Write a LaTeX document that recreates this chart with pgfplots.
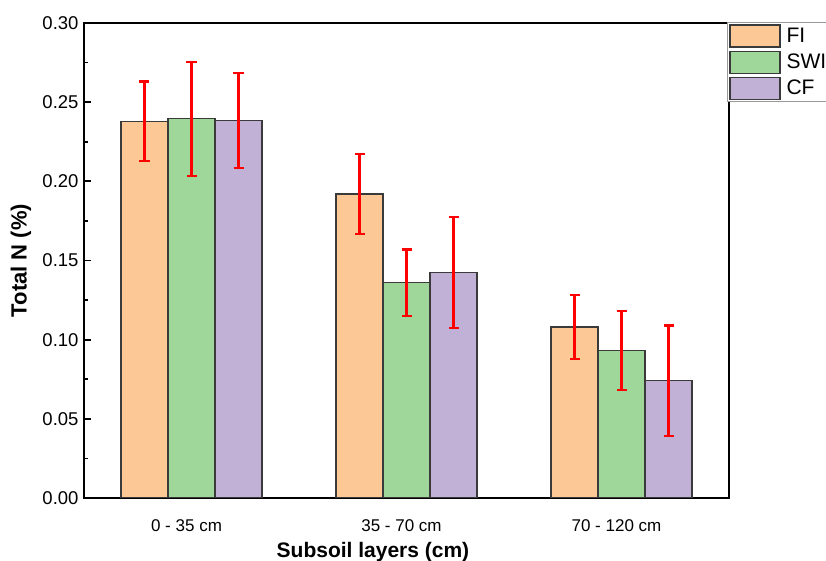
\documentclass[border=0pt]{standalone}
\usepackage{pgfplots}
\pgfplotsset{compat=1.18}
\usepackage{fontspec}
\setmainfont{Liberation Sans}
\definecolor{cFI}{HTML}{FCC896}
\definecolor{cSWI}{HTML}{9FD69A}
\definecolor{cCF}{HTML}{C2B1D7}
\definecolor{edge}{HTML}{3A3A3A}
\begin{document}
\begin{tikzpicture}
\begin{axis}[
  at={(0,0)}, anchor=south west,
  scale only axis, width=645bp, height=475bp,
  ybar=0pt, bar width=47bp,
  xmin=-0.5, xmax=2.5, ymin=0, ymax=0.30,
  xtick={0,1,2}, xticklabels={0 - 35 cm, 35 - 70 cm, 70 - 120 cm},
  ytick={0,0.05,0.10,0.15,0.20,0.25,0.30},
  minor ytick={0.025,0.075,0.125,0.175,0.225,0.275},
  ytick pos=left, xtick pos=bottom,
  tick align=inside,
  major tick length=7bp, minor tick length=4bp,
  x tick style={draw=none},
  y tick style={line width=1.8bp, black},
  axis line style={line width=2.2bp, black},
  tick label style={font=\fontsize{17bp}{20bp}\selectfont},
  yticklabel style={font=\fontsize{18.5bp}{21bp}\selectfont, xshift=-2bp,
    /pgf/number format/.cd, fixed, fixed zerofill, precision=2, assume math mode=true},
  xticklabel style={anchor=base, yshift=-33bp, xshift=-5bp},
  xlabel={\textbf{Subsoil layers (cm)}},
  ylabel={\textbf{Total N (\%)}},
  label style={font=\fontsize{21bp}{24bp}\selectfont},
  xlabel style={at={(axis description cs:0.448,-0.126)}, anchor=base},
  ylabel style={font=\fontsize{22bp}{24bp}\selectfont, at={(axis description cs:-0.0977,0.5)}, anchor=center},
  legend image code/.code={\draw[#1] (0bp,-11bp) rectangle (50bp,11bp);},
  legend style={at={(axis description cs:0.997,1.002)}, anchor=north west,
    draw=gray!80, line width=0.8bp, inner sep=2bp, row sep=3bp, column sep=6bp,
    nodes={inner sep=0pt}, font=\fontsize{21bp}{23bp}\selectfont},
  legend cell align=left,
  error bars/y dir=both, error bars/y explicit,
  error bars/error bar style={red, line width=2.5bp},
  error bars/error mark options={red, line width=2.2bp, mark size=5bp, rotate=90},
]
\addplot[fill=cFI, draw=edge, line width=1.1bp] coordinates {
  (0,0.238) +- (0,0.025)
  (1,0.192) +- (0,0.0255)
  (2,0.108) +- (0,0.020)};
\addlegendentry{FI}
\addplot[fill=cSWI, draw=edge, line width=1.1bp] coordinates {
  (0,0.2395) +- (0,0.036)
  (1,0.136) +- (0,0.021)
  (2,0.093) +- (0,0.025)};
\addlegendentry{SWI}
\addplot[fill=cCF, draw=edge, line width=1.1bp] coordinates {
  (0,0.2385) +- (0,0.030)
  (1,0.1425) +- (0,0.035)
  (2,0.074) +- (0,0.035)};
\addlegendentry{CF}
\end{axis}
\pgfresetboundingbox
\useasboundingbox (-84bp,-63bp) rectangle (742bp,498bp);
\end{tikzpicture}
\end{document}
